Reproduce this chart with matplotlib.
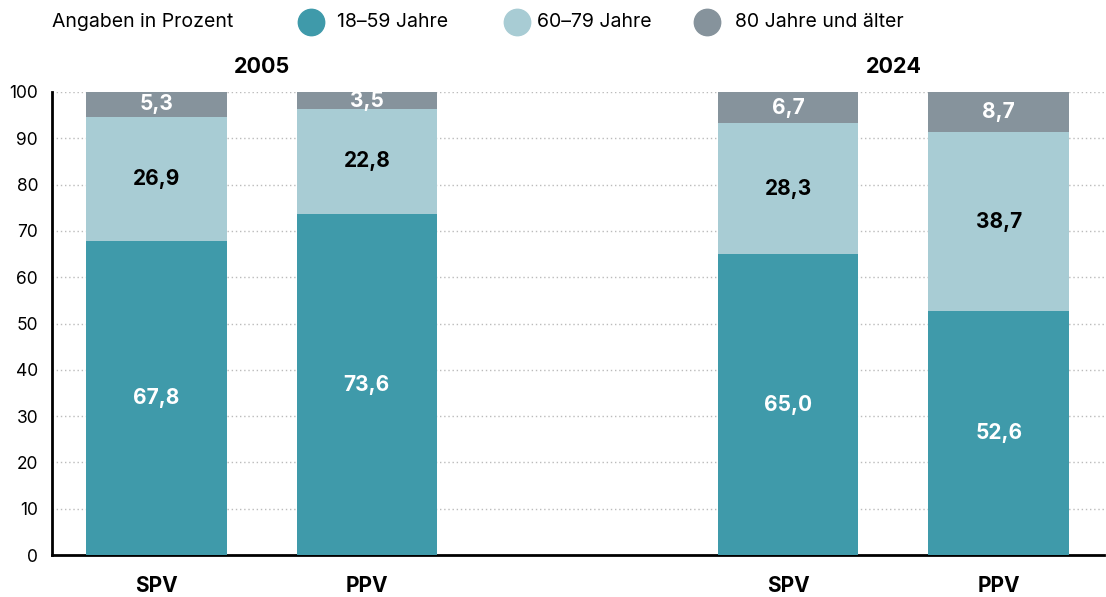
import matplotlib
matplotlib.use("Agg")
import matplotlib.pyplot as plt
from matplotlib.lines import Line2D

plt.rcParams['font.family'] = ['Inter', 'DejaVu Sans']

categories = ["SPV", "PPV", "SPV", "PPV"]
years = ["2005", "2024"]
series_names = ["18–59 Jahre", "60–79 Jahre", "80 Jahre und älter"]
young = [67.8, 73.6, 65.0, 52.6]
middle = [26.9, 22.8, 28.3, 38.7]
old = [5.3, 3.5, 6.7, 8.7]
yticks = [0, 10, 20, 30, 40, 50, 60, 70, 80, 90, 100]

colors = ["#3F9AAA", "#A8CCD4", "#86939C"]
label_colors = ["white", "black", "white"]
positions = [0, 1, 3, 4]

fig = plt.figure(figsize=(11.06, 5.97), dpi=100)
ax = fig.add_axes([52/1106, 1-555/597, (1104-52)/1106, (555-92)/597])

def fmt(v):
    return f"{v:.1f}".replace(".", ",")

bottoms = [0]*4
for vals, c, lc in zip([young, middle, old], colors, label_colors):
    ax.bar(positions, vals, width=0.668, bottom=bottoms, color=c, zorder=3)
    for p, v, b in zip(positions, vals, bottoms):
        ax.text(p, b + v/2, fmt(v), ha="center", va="center", color=lc,
                fontsize=15, fontweight="bold", zorder=4)
    bottoms = [b + v for b, v in zip(bottoms, vals)]

ax.set_xlim(-0.495, 4.5)
ax.set_ylim(0, 100)
ax.set_yticks(yticks)
ax.set_yticklabels([str(t) for t in yticks], fontsize=12.5)
ax.tick_params(axis="y", length=0, pad=10)
ax.set_xticks(positions)
ax.set_xticklabels(categories, fontsize=15, fontweight="bold")
ax.tick_params(axis="x", length=0, pad=15)
ax.grid(axis="y", linestyle=(0, (1, 2)), color="#BBBBBB", linewidth=1, zorder=0)
for s in ["top", "right"]:
    ax.spines[s].set_visible(False)
for s in ["left", "bottom"]:
    ax.spines[s].set_linewidth(2)
    ax.spines[s].set_color("black")

# group labels
ax.text(0.5, 103.3, years[0], ha="center", va="bottom", fontsize=15.5, fontweight="bold", clip_on=False)
ax.text(3.5, 103.3, years[1], ha="center", va="bottom", fontsize=15.5, fontweight="bold", clip_on=False)

# legend row
fig.text(52/1106, 1-22/597, "Angaben in Prozent", ha="left", va="center", fontsize=14)
circ_x = [311, 517, 707]
text_x = [337, 537, 735]
for cx, tx, c, name in zip(circ_x, text_x, colors, series_names):
    fig.add_artist(Line2D([cx/1106], [1-22/597], marker="o", markersize=19,
                          color=c, linestyle="none", transform=fig.transFigure))
    fig.text(tx/1106, 1-22/597, name, ha="left", va="center", fontsize=14)

fig.savefig("out.png", dpi=100)
